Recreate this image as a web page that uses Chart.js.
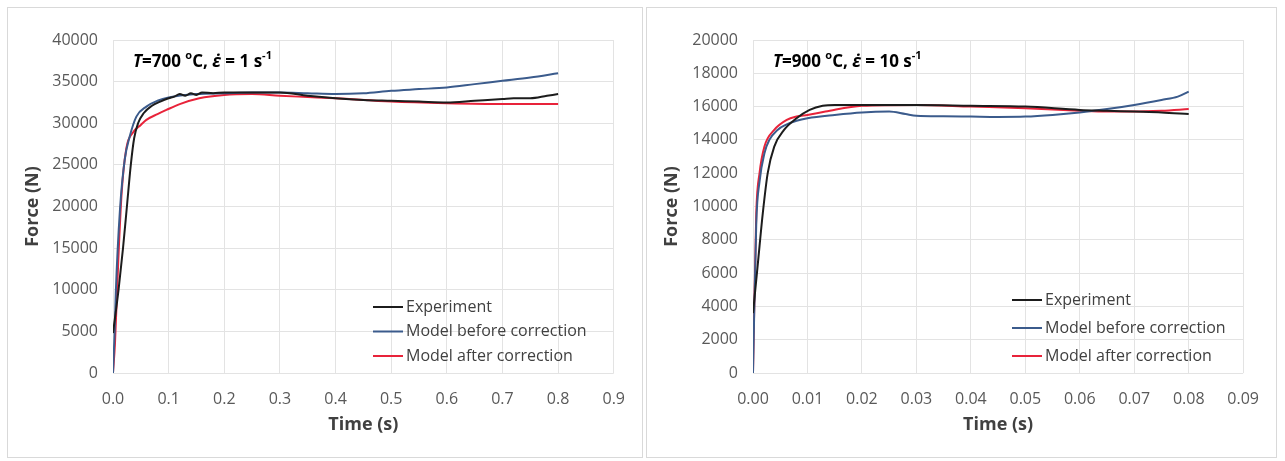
<!DOCTYPE html>
<html>
<head>
<meta charset="utf-8">
<script src="https://cdn.jsdelivr.net/npm/chart.js@4.4.1/dist/chart.umd.min.js"></script>
<style>
  body { margin: 0; background: #fff; width: 1285px; height: 461px; overflow: hidden; }
  .panel { position: absolute; top: 7px; height: 449px; border: 1px solid #d9d9d9; background: #fff; }
  #p1 { left: 7px; width: 634px; }
  #p2 { left: 646px; width: 629px; }
  canvas { display: block; }
</style>
</head>
<body>
<div class="panel" id="p1"><canvas id="chart700" width="634" height="449"></canvas></div>
<div class="panel" id="p2"><canvas id="chart900" width="629" height="449"></canvas></div>
<script>
// ---- T = 700 C, strain rate 1 /s ----
const expTime700 = [0, 0.01, 0.018, 0.025, 0.032, 0.038, 0.045, 0.055, 0.07, 0.085, 0.1, 0.11, 0.12, 0.13, 0.14, 0.15, 0.16, 0.18, 0.2, 0.25, 0.3, 0.35, 0.4, 0.45, 0.5, 0.55, 0.6, 0.65, 0.7, 0.72, 0.75, 0.78, 0.8];
const expForce700 = [4800, 10000, 15000, 20000, 25000, 28200, 30000, 31200, 32100, 32600, 33000, 33200, 33500, 33300, 33600, 33400, 33700, 33600, 33700, 33700, 33700, 33300, 33000, 32800, 32700, 32600, 32500, 32700, 32900, 33000, 33000, 33300, 33500];
const beforeTime700 = [0, 0.003, 0.005, 0.0125, 0.021, 0.03, 0.042, 0.06, 0.08, 0.1, 0.15, 0.2, 0.25, 0.3, 0.35, 0.4, 0.45, 0.5, 0.55, 0.6, 0.65, 0.7, 0.75, 0.8];
const beforeForce700 = [0, 5000, 9600, 19600, 25600, 28400, 30800, 32000, 32700, 33100, 33500, 33600, 33700, 33700, 33600, 33500, 33600, 33900, 34100, 34300, 34700, 35100, 35500, 36000];
const afterTime700 = [0, 0.0036, 0.0095, 0.0155, 0.024, 0.036, 0.05, 0.06, 0.08, 0.096, 0.12, 0.155, 0.2, 0.25, 0.3, 0.35, 0.4, 0.5, 0.6, 0.7, 0.8];
const afterForce700 = [0, 3600, 13500, 21600, 27000, 28900, 29800, 30400, 31100, 31600, 32300, 33000, 33400, 33500, 33300, 33150, 33000, 32600, 32400, 32300, 32300];
const xTicks700 = [0, 0.1, 0.2, 0.3, 0.4, 0.5, 0.6, 0.7, 0.8, 0.9];

// ---- T = 900 C, strain rate 10 /s ----
const expTime900 = [0, 0.0009, 0.0018, 0.0027, 0.0039, 0.0057, 0.008, 0.0104, 0.0128, 0.015, 0.02, 0.03, 0.04, 0.05, 0.06, 0.065, 0.07, 0.075, 0.08];
const expForce900 = [3600, 6600, 9600, 12000, 13600, 14600, 15300, 15800, 16050, 16100, 16100, 16100, 16050, 16000, 15800, 15750, 15700, 15650, 15550];
const beforeTime900 = [0, 0.0006, 0.0012, 0.0021, 0.003, 0.0045, 0.006, 0.008, 0.01, 0.015, 0.02, 0.025, 0.028, 0.03, 0.035, 0.04, 0.045, 0.05, 0.055, 0.06, 0.065, 0.07, 0.075, 0.078, 0.08];
const beforeForce900 = [0, 9000, 11500, 13200, 14000, 14600, 14900, 15150, 15300, 15500, 15650, 15700, 15550, 15450, 15420, 15400, 15380, 15400, 15500, 15650, 15850, 16100, 16400, 16600, 16900];
const afterTime900 = [0, 0.0006, 0.0012, 0.0021, 0.0039, 0.0062, 0.008, 0.01, 0.0133, 0.02, 0.03, 0.04, 0.05, 0.06, 0.065, 0.07, 0.075, 0.08];
const afterForce900 = [0, 9600, 12000, 13600, 14600, 15200, 15400, 15500, 15700, 16050, 16100, 16000, 15900, 15750, 15700, 15700, 15750, 15850];
const xTicks900 = [0, 0.01, 0.02, 0.03, 0.04, 0.05, 0.06, 0.07, 0.08, 0.09];

const seriesNames = ['Experiment', 'Model before correction', 'Model after correction'];
const seriesColors = ['#1c1c1c', '#3b5b8c', '#e8233a'];

const FONT = '"Open Sans", "Noto Sans", sans-serif';

function pairs(xs, ys) {
  return xs.map((x, i) => ({ x: x, y: ys[i] }));
}

// legend drawn inside the plot area, like the original
const insideLegend = {
  id: 'insideLegend',
  afterDraw(chart, args, opts) {
    const ctx = chart.ctx;
    const area = chart.chartArea;
    ctx.save();
    ctx.font = '16px ' + FONT;
    ctx.textBaseline = 'middle';
    chart.data.datasets.forEach((ds, i) => {
      const x = area.left + opts.left;
      const y = area.top + opts.top + i * opts.gap;
      ctx.strokeStyle = ds.borderColor;
      ctx.lineWidth = 2;
      ctx.beginPath();
      ctx.moveTo(x, y);
      ctx.lineTo(x + 30, y);
      ctx.stroke();
      ctx.fillStyle = '#404040';
      ctx.fillText(ds.label, x + 33, y);
    });
    ctx.restore();
  }
};

// "T=700 °C, ε̇ = 1 s-1" label with super scripts
const conditionLabel = {
  id: 'conditionLabel',
  afterDraw(chart, args, opts) {
    const ctx = chart.ctx;
    const area = chart.chartArea;
    let x = area.left + 20;
    const y = area.top + 22;
    const parts = [
      { t: 'T', f: 'italic bold 17px', dy: 0 },
      { t: '=' + opts.temp + ' ', f: 'bold 17px', dy: 0 },
      { t: 'o', f: 'bold 11px', dy: -6 },
      { t: 'C, ', f: 'bold 17px', dy: 0 },
      { t: '\u03B5\u0307', f: 'italic bold 17px', dy: 0 },
      { t: ' = ' + opts.rate + ' s', f: 'bold 17px', dy: 0 },
      { t: '-1', f: 'bold 11px', dy: -6 }
    ];
    ctx.save();
    ctx.fillStyle = '#000';
    ctx.textBaseline = 'middle';
    parts.forEach(p => {
      ctx.font = p.f + ' ' + FONT;
      ctx.fillText(p.t, x, y + p.dy);
      x += ctx.measureText(p.t).width;
    });
    ctx.restore();
  }
};

function makeChart(id, data, xMax, xTicks, xDecimals, yMax, yStep, cond, legendOpts, rightPad, yWidth) {
  new Chart(document.getElementById(id), {
    type: 'scatter',
    data: {
      datasets: data.map((d, i) => ({
        label: seriesNames[i],
        data: d,
        showLine: true,
        borderColor: seriesColors[i],
        backgroundColor: seriesColors[i],
        borderWidth: 2,
        pointRadius: 0,
        cubicInterpolationMode: 'monotone'
      }))
    },
    options: {
      responsive: false,
      animation: false,
      layout: { padding: { top: 32, right: rightPad, left: 0, bottom: 0 } },
      plugins: {
        legend: { display: false },
        tooltip: { enabled: false },
        insideLegend: legendOpts,
        conditionLabel: cond
      },
      scales: {
        x: {
          type: 'linear',
          min: 0,
          max: xMax,
          afterFit: s => { s.height = 84; },
          afterBuildTicks: s => { s.ticks = xTicks.map(v => ({ value: v })); },
          grid: { color: '#e3e3e3', drawTicks: false },
          border: { display: false },
          ticks: {
            padding: 17,
            color: '#595959',
            font: { family: FONT, size: 16 },
            callback: v => v.toFixed(xDecimals)
          },
          title: {
            display: true,
            text: 'Time (s)',
            color: '#404040',
            font: { family: FONT, size: 18, weight: 'bold' },
            padding: { top: 0, bottom: 21 }
          }
        },
        y: {
          min: 0,
          max: yMax,
          afterFit: s => { s.width = yWidth; },
          grid: { color: '#e3e3e3', drawTicks: false },
          border: { display: false },
          ticks: {
            stepSize: yStep,
            padding: 15,
            color: '#595959',
            font: { family: FONT, size: 16 },
            callback: v => String(v)
          },
          title: {
            display: true,
            text: 'Force (N)',
            color: '#404040',
            font: { family: FONT, size: 18, weight: 'bold' },
            padding: { top: 14, bottom: 0 }
          }
        }
      }
    },
    plugins: [insideLegend, conditionLabel]
  });
}

makeChart('chart700',
  [pairs(expTime700, expForce700), pairs(beforeTime700, beforeForce700), pairs(afterTime700, afterForce700)],
  0.9, xTicks700, 1, 40000, 5000,
  { temp: 700, rate: 1 },
  { left: 260, top: 267, gap: 24.5 },
  24, 105);

makeChart('chart900',
  [pairs(expTime900, expForce900), pairs(beforeTime900, beforeForce900), pairs(afterTime900, afterForce900)],
  0.09, xTicks900, 2, 20000, 2000,
  { temp: 900, rate: 10 },
  { left: 259, top: 260, gap: 28 },
  17, 106);
</script>
</body>
</html>
